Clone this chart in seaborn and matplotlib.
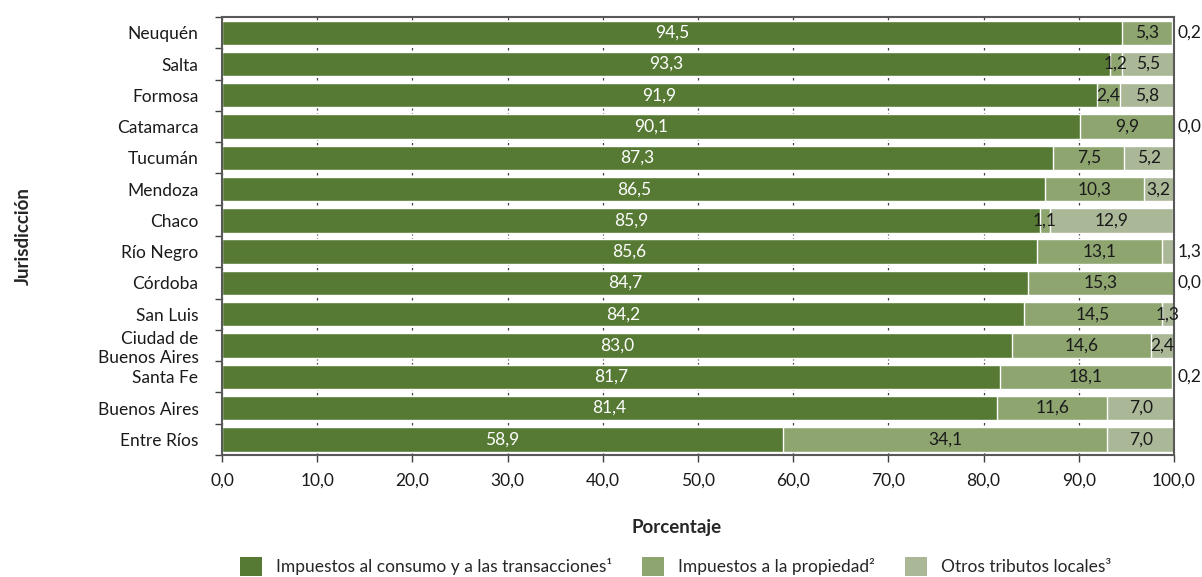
import numpy as np
import pandas as pd
import matplotlib.pyplot as plt
from matplotlib.patches import Patch
import seaborn as sns

# datos por jurisdicción (porcentaje)
jurisdicciones = ["Neuquén", "Salta", "Formosa", "Catamarca", "Tucumán", "Mendoza", "Chaco",
                  "Río Negro", "Córdoba", "San Luis", "Ciudad de\nBuenos Aires", "Santa Fe",
                  "Buenos Aires", "Entre Ríos"]
consumo = [94.5, 93.3, 91.9, 90.1, 87.3, 86.5, 85.9, 85.6, 84.7, 84.2, 83.0, 81.7, 81.4, 58.9]
propiedad = [5.3, 1.2, 2.4, 9.9, 7.5, 10.3, 1.1, 13.1, 15.3, 14.5, 14.6, 18.1, 11.6, 34.1]
otros = [0.2, 5.5, 5.8, 0.0, 5.2, 3.2, 12.9, 1.3, 0.0, 1.3, 2.4, 0.2, 7.0, 7.0]
series = ["Impuestos al consumo y a las transacciones¹", "Impuestos a la propiedad²",
          "Otros tributos locales³"]
x_ticks = [0, 10, 20, 30, 40, 50, 60, 70, 80, 90, 100]
# etiquetas que en el original van fuera de la barra
fuera = ["Neuquén", "Catamarca", "Río Negro", "Córdoba", "Santa Fe"]

colores = ["#567a34", "#8ea570", "#aab898"]

sns.set_theme(style="white")
plt.rcParams['font.family'] = ['Lato', 'DejaVu Sans']
fs = 12.5

df = pd.DataFrame({"jur": jurisdicciones, "c": consumo, "p": propiedad, "o": otros})
df["cp"] = df["c"] + df["p"]
df["cpo"] = df["cp"] + df["o"]

fig = plt.figure(figsize=(12.02, 5.77), dpi=100)
ax = fig.add_axes([0.1847, 0.2114, 0.792, 0.759])

# barras apiladas: se dibuja el total acumulado primero
w = 0.78
sns.barplot(data=df, x="cpo", y="jur", color=colores[2], saturation=1, width=w, ax=ax, zorder=2)
sns.barplot(data=df, x="cp", y="jur", color=colores[1], saturation=1, width=w, ax=ax, zorder=2)
sns.barplot(data=df, x="c", y="jur", color=colores[0], saturation=1, width=w, ax=ax, zorder=2)


def fmt(v):
    return ("%.1f" % v).replace(".", ",")


for i in range(len(df)):
    c, p, o = df["c"][i], df["p"][i], df["o"][i]
    ax.text(c / 2, i, fmt(c), ha='center', va='center', color='white', fontsize=fs, zorder=3)
    ax.text(c + p / 2, i, fmt(p), ha='center', va='center', color='#1a1a1a', fontsize=fs, zorder=3)
    if df["jur"][i] in fuera:
        ax.text(100.4, i, fmt(o), ha='left', va='center', color='#1a1a1a', fontsize=fs,
                zorder=3, clip_on=False)
    else:
        ax.text(c + p + o / 2, i, fmt(o), ha='center', va='center', color='#1a1a1a',
                fontsize=fs, zorder=3)

# ejes
ax.set_xlim(0, 100)
ax.set_ylim(len(df) - 0.5, -0.5)
ax.set_xticks(x_ticks)
ax.set_xticklabels([fmt(t) for t in x_ticks], fontsize=fs, color='#1a1a1a')
ax.tick_params(axis='x', direction='out', length=5, width=1, color='#404040', pad=8, bottom=True)
ax.tick_params(axis='y', which='major', length=0, pad=17, labelsize=fs, labelcolor='#1a1a1a')
ax.set_yticks(np.arange(-0.5, len(df), 1), minor=True)
ax.tick_params(axis='y', which='minor', direction='out', length=5, width=1, color='#404040', left=True)

ax.xaxis.grid(True, linestyle=(0, (2, 2)), color='#404040', lw=0.9)
ax.set_axisbelow(True)
for s in ax.spines.values():
    s.set_color('#595959')
    s.set_linewidth(1.5)

ax.set_xlabel("Porcentaje", fontsize=13.5, fontweight='bold')
ax.set_ylabel("Jurisdicción", fontsize=13.5, fontweight='bold')
ax.xaxis.set_label_coords(0.478, -0.145)
ax.yaxis.set_label_coords(-0.1996, 0.5)

handles = [Patch(facecolor=col, edgecolor='none') for col in colores]
fig.legend(handles, series, loc='lower center', bbox_to_anchor=(0.562, -0.025), ncol=3,
           frameon=False, fontsize=fs, handlelength=1.3, handleheight=1.3, columnspacing=1.7)

plt.savefig("out.png", dpi=100)
